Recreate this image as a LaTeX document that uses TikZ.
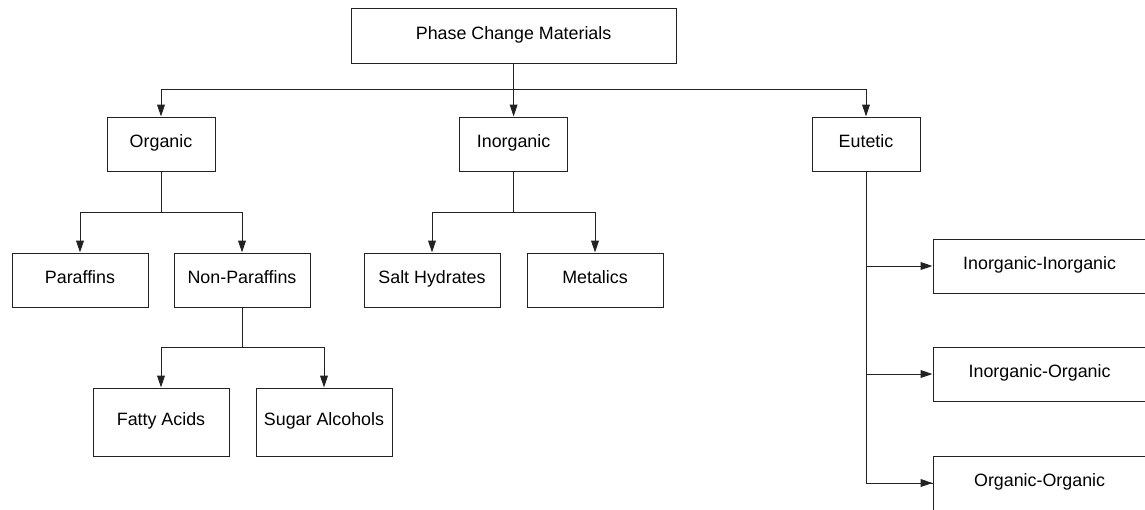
\documentclass[tikz,border=0pt]{standalone}
\usepackage{fontspec}
\setmainfont{Liberation Sans}
\usetikzlibrary{positioning, arrows.meta, calc}
\definecolor{linie}{HTML}{222222}

\begin{document}
\begin{tikzpicture}[font=\fontsize{12.7}{15}\selectfont, >={Triangle[length=8.5pt, width=5.5pt]}]

    % --- Definition der Stile für die Blöcke ---
    \tikzset{
        block/.style={rectangle, draw=linie, line width=0.7pt, minimum width=2.7cm, minimum height=1.35cm,
            align=center, text height=0.72em, text depth=0.2em},
        breitblock/.style={block, minimum width=3.4cm},
        hochblock/.style={breitblock, minimum height=1.7cm},
        eutblock/.style={block, minimum width=5.33cm},
        verbindung/.style={draw=linie, line width=0.7pt}
    }

    % --- Rahmen ---
    \useasboundingbox (0, 0) rectangle (28.625, -12.725);

    % --- Positionierung der Blöcke ---
    \node[block, minimum width=8.125cm, minimum height=1.375cm] (PCM) at (12.84, -0.89) {Phase Change Materials};
    \node[block]      (org)   at (4.025, -3.6)   {Organic};
    \node[block]      (inorg) at (12.84, -3.6)   {Inorganic};
    \node[block]      (eut)   at (21.65, -3.6)   {Eutetic};
    \node[breitblock] (par)   at (2.0, -7.0)     {Paraffins};
    \node[breitblock] (npar)  at (6.05, -7.0)    {Non-Paraffins};
    \node[breitblock] (salt)  at (10.8, -7.0)    {Salt Hydrates};
    \node[breitblock] (met)   at (14.875, -7.0)  {Metalics};
    \node[hochblock]  (fat)   at (4.025, -10.55) {Fatty Acids};
    \node[hochblock]  (sug)   at (8.1, -10.55)   {Sugar Alcohols};
    \node[eutblock]   (ii)    at (25.99, -6.65)  {Inorganic-Inorganic};
    \node[eutblock]   (io)    at (25.99, -9.35)  {Inorganic-Organic};
    \node[eutblock]   (oo)    at (25.99, -12.075){Organic-Organic};

    % --- Verzweigungspunkte ---
    \coordinate (bus)    at (12.84, -2.225);
    \coordinate (orgv)   at (4.025, -5.3);
    \coordinate (inorgv) at (12.84, -5.3);
    \coordinate (nparv)  at (6.05, -8.675);

    % --- Verbindungen ---

    % Phase Change Materials
    \draw[verbindung] (PCM.south) -- (bus);
    \draw[verbindung, ->] (bus) -| (org.north);
    \draw[verbindung, ->] (bus) -- (inorg.north);
    \draw[verbindung, ->] (bus) -| (eut.north);

    % Organic
    \draw[verbindung] (org.south) -- (orgv);
    \draw[verbindung, ->] (orgv) -| (par.north);
    \draw[verbindung, ->] (orgv) -| (npar.north);

    % Non-Paraffins
    \draw[verbindung] (npar.south) -- (nparv);
    \draw[verbindung, ->] (nparv) -| (fat.north);
    \draw[verbindung, ->] (nparv) -| (sug.north);

    % Inorganic
    \draw[verbindung] (inorg.south) -- (inorgv);
    \draw[verbindung, ->] (inorgv) -| (salt.north);
    \draw[verbindung, ->] (inorgv) -| (met.north);

    % Eutetic
    \draw[verbindung] (eut.south) |- (oo.west);
    \draw[verbindung, ->] (eut.south |- ii.west) -- (ii.west);
    \draw[verbindung, ->] (eut.south |- io.west) -- (io.west);
    \draw[verbindung, ->] (eut.south |- oo.west) -- (oo.west);

\end{tikzpicture}
\end{document}
